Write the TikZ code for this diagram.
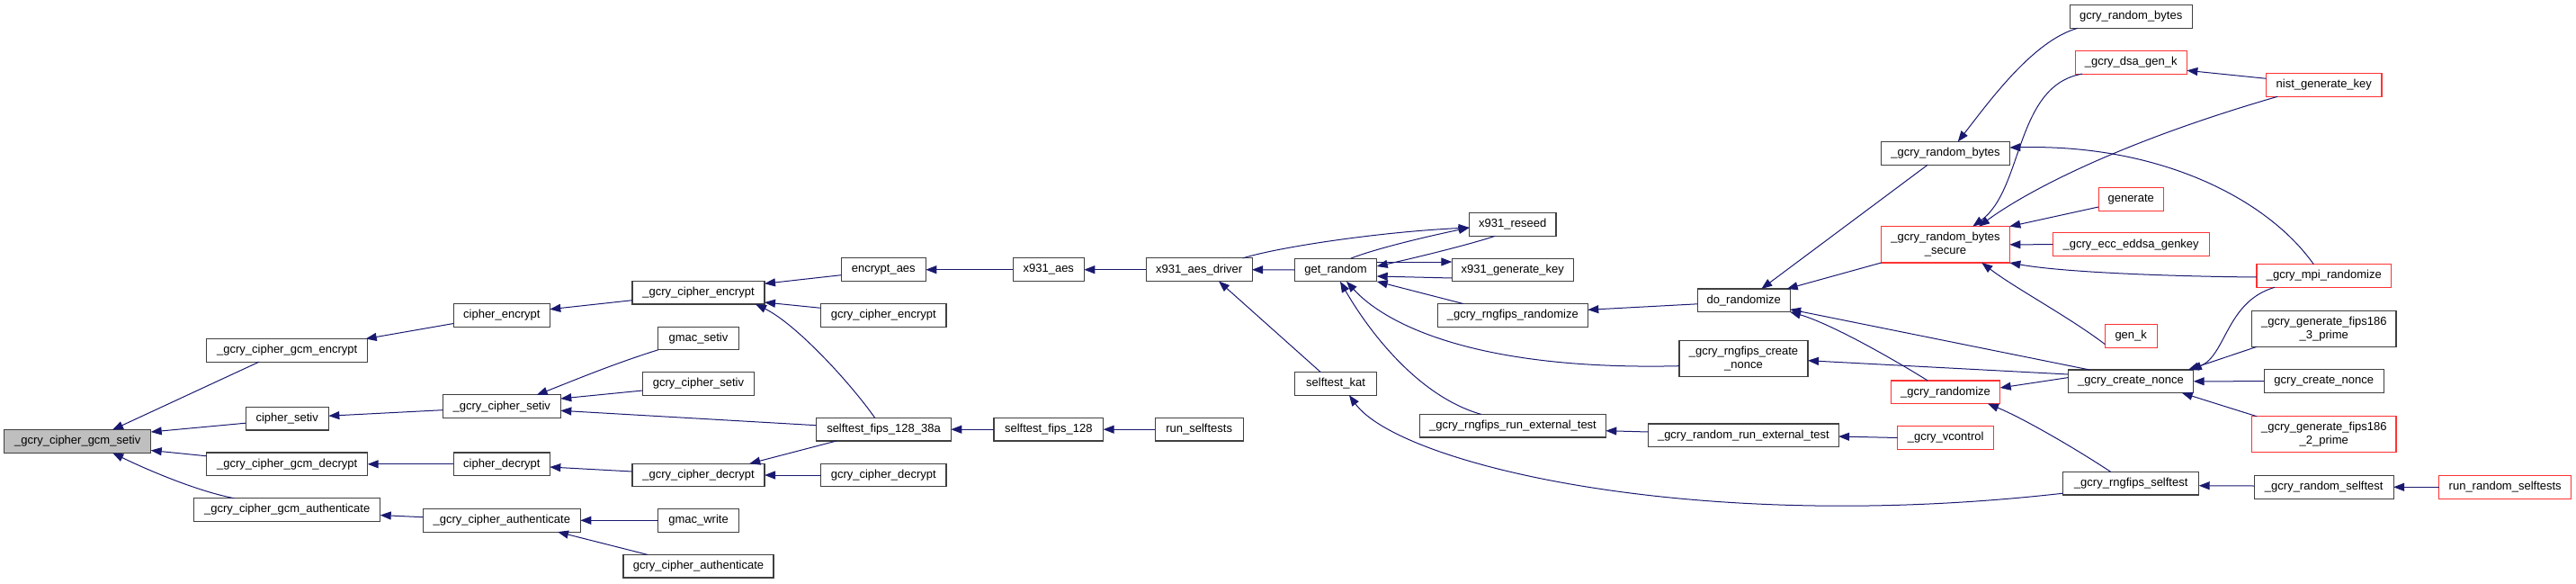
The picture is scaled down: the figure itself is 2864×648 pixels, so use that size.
\documentclass[tikz,border=0pt]{standalone}
\usepackage{fontspec}
\setmainfont{Liberation Sans}
\usetikzlibrary{arrows.meta}
\definecolor{edgecol}{HTML}{191970}
\definecolor{redb}{HTML}{FF3333}
\definecolor{boxb}{HTML}{404040}
\definecolor{grayf}{HTML}{BFBFBF}
\begin{document}
\begin{tikzpicture}[x=1pt,y=-1pt,font=\fontsize{13}{15}\selectfont,
  box/.style={draw=boxb,line width=1.1pt,inner sep=0pt,outer sep=0pt,align=center,fill=white,minimum height=25.6pt},
  rbox/.style={box,draw=redb},
  edge/.style={draw=edgecol,line width=1pt,arrows={Triangle[length=12pt,width=9pt]-}}]
\useasboundingbox (0,0) rectangle (2864,648);
% left part
\node[box,fill=grayf,minimum width=163pt] (gs) at (86.2,490.5) {\_gcry\_cipher\_gcm\_setiv};
\node[box,minimum width=179pt] (ge) at (319.2,389.3) {\_gcry\_cipher\_gcm\_encrypt};
\node[box,minimum width=92.3pt] (cs) at (319.2,465.2) {cipher\_setiv};
\node[box,minimum width=179pt] (gd) at (319.2,515.8) {\_gcry\_cipher\_gcm\_decrypt};
\node[box,minimum width=207pt] (ga) at (319.2,566.5) {\_gcry\_cipher\_gcm\_authenticate};
\node[box,minimum width=107pt] (ce) at (557.8,350.5) {cipher\_encrypt};
\node[box,minimum width=147pt] (gce) at (776.5,325.2) {\_gcry\_cipher\_encrypt};
\node[box,minimum width=94pt] (ea) at (982.3,299.7) {encrypt\_aes};
\node[box,minimum width=139.3pt] (gcre) at (982.3,350.5) {gcry\_cipher\_encrypt};
\node[box,minimum width=89.6pt] (gms) at (776.5,376) {gmac\_setiv};
\node[box,minimum width=124.4pt] (gcrs) at (776.5,426.5) {gcry\_cipher\_setiv};
\node[box,minimum width=131pt] (gcs) at (557.8,451.7) {\_gcry\_cipher\_setiv};
\node[box,minimum width=149.6pt] (sf38) at (982.5,477.2) {selftest\_fips\_128\_38a};
\node[box,minimum width=107pt] (cd) at (557.8,515.8) {cipher\_decrypt};
\node[box,minimum width=147pt] (gcd) at (776.5,528) {\_gcry\_cipher\_decrypt};
\node[box,minimum width=139.3pt] (gcrd) at (982.3,528) {gcry\_cipher\_decrypt};
\node[box,minimum width=175pt] (gca) at (557.8,578.3) {\_gcry\_cipher\_authenticate};
\node[box,minimum width=89.6pt] (gw) at (776.5,578.3) {gmac\_write};
\node[box,minimum width=167pt] (gcra) at (776.5,629.2) {gcry\_cipher\_authenticate};
\node[box,minimum width=79pt] (xa) at (1165.8,299.7) {x931\_aes};
\node[box,minimum width=117.7pt] (xad) at (1333.2,299.7) {x931\_aes\_driver};
\node[box,minimum width=121.7pt] (sf128) at (1165.8,477.2) {selftest\_fips\_128};
\node[box,minimum width=97.7pt] (rs) at (1333.2,477.2) {run\_selftests};
% middle
\node[box,minimum width=91.4pt] (gr) at (1485,300) {get\_random};
\node[box,minimum width=96.3pt] (xr) at (1681.8,249.5) {x931\_reseed};
\node[box,minimum width=135pt] (xgk) at (1681.8,300) {x931\_generate\_key};
\node[box,minimum width=167pt] (rr) at (1681.8,350.3) {\_gcry\_rngfips\_randomize};
\node[box,minimum width=91.4pt] (sk) at (1485,426.4) {selftest\_kat};
\node[box,minimum width=206.6pt] (ret) at (1682,473.2) {\_gcry\_rngfips\_run\_external\_test};
\node[box,minimum width=102.7pt] (dr) at (1938.7,333.8) {do\_randomize};
\node[box,minimum width=143pt,minimum height=40pt] (rcn) at (1938.5,398.7) {\_gcry\_rngfips\_create\\\_nonce};
\node[box,minimum width=211.3pt] (rret) at (1938.4,483.8) {\_gcry\_random\_run\_external\_test};
% right
\node[box,minimum width=136.3pt] (gcrb) at (2369.2,18.5) {gcry\_random\_bytes};
\node[rbox,minimum width=124.3pt] (dsa) at (2369.2,69.3) {\_gcry\_dsa\_gen\_k};
\node[box,minimum width=142.6pt] (grb) at (2163,170.3) {\_gcry\_random\_bytes};
\node[rbox,minimum width=142.6pt,minimum height=40.3pt] (grbs) at (2163,271.8) {\_gcry\_random\_bytes\\\_secure};
\node[rbox,minimum width=72.3pt] (gen) at (2369.2,221.3) {generate};
\node[rbox,minimum width=173.7pt] (ecc) at (2369.2,271.7) {\_gcry\_ecc\_eddsa\_genkey};
\node[rbox,minimum width=128.3pt] (nist) at (2583.8,94.5) {nist\_generate\_key};
\node[rbox,minimum width=149.7pt] (mpi) at (2583.8,306.5) {\_gcry\_mpi\_randomize};
\node[rbox,minimum width=57.7pt] (gk) at (2369.2,373.3) {gen\_k};
\node[box,minimum width=139.4pt] (cn) at (2369,423.8) {\_gcry\_create\_nonce};
\node[rbox,minimum width=121.4pt] (grz) at (2163,435.8) {\_gcry\_randomize};
\node[rbox,minimum width=107pt] (vc) at (2163.2,486.5) {\_gcry\_vcontrol};
\node[box,minimum width=151pt] (rst) at (2369.2,537.2) {\_gcry\_rngfips\_selftest};
\node[box,minimum width=160.3pt,minimum height=40.3pt] (f3) at (2583.8,365.2) {\_gcry\_generate\_fips186\\\_3\_prime};
\node[box,minimum width=132.7pt] (gcn) at (2583.7,423.7) {gcry\_create\_nonce};
\node[rbox,minimum width=160.3pt,minimum height=40pt] (f2) at (2583.8,482.7) {\_gcry\_generate\_fips186\\\_2\_prime};
\node[box,minimum width=154.7pt] (rsel) at (2583.7,541.3) {\_gcry\_random\_selftest};
\node[rbox,minimum width=147pt] (rrs) at (2785.2,541.3) {run\_random\_selftests};
% edges (arrow at callee)
\draw[edge] ([xshift=38.8pt]gs.north) -- ([xshift=-31pt]ge.south);
\draw[edge] ([yshift=10.5pt]gs.east) -- ([yshift=-5pt]cs.west);
\draw[edge] ([yshift=-10pt]gs.east) -- ([yshift=9pt]gd.west);
\draw[edge] ([xshift=39pt]gs.south) .. controls (155,518) and (215,545) .. ([xshift=-59pt]ga.north);
\draw[edge] ([xshift=-2pt]ge.north east) -- ([yshift=-9pt]ce.west);
\draw[edge] ([yshift=3pt]cs.east) -- ([yshift=-4pt]gcs.west);
\draw[edge] (gd.east) -- (cd.west);
\draw[edge] ([yshift=-6pt]ga.east) -- ([yshift=3.6pt]gca.west);
\draw[edge] ([yshift=6.8pt]ce.east) -- ([yshift=-8.5pt]gce.west);
\draw[edge] ([yshift=10pt]gce.east) -- ([yshift=-6pt]ea.west);
\draw[edge] ([yshift=-10.8pt]gce.east) -- ([yshift=8.2pt]gcre.west);
\draw[edge] ([xshift=63.5pt]gce.south) .. controls (885,360) and (945,425) .. ([xshift=-9.8pt]sf38.north);
\draw[edge] ([xshift=38.9pt]gcs.north) .. controls (635,424) and (680,405) .. (gms.south west);
\draw[edge] ([yshift=8.7pt]gcs.east) -- ([yshift=-7.5pt]gcrs.west);
\draw[edge] ([yshift=-4.6pt]gcs.east) -- ([yshift=4.5pt]sf38.west);
\draw[edge] ([yshift=-3.2pt]cd.east) -- ([yshift=4pt]gcd.west);
\draw[edge] ([xshift=56.8pt]gcd.north) -- ([xshift=-52.5pt]sf38.south);
\draw[edge] (gcd.east) -- (gcrd.west);
\draw[edge] (gca.east) -- (gw.west);
\draw[edge] ([xshift=62.2pt]gca.south) -- ([xshift=-56.5pt]gcra.north);
\draw[edge] (ea.east) -- (xa.west);
\draw[edge] (xa.east) -- (xad.west);
\draw[edge] (sf38.east) -- (sf128.west);
\draw[edge] (sf128.east) -- (rs.west);
\draw[edge] (xad.east) -- (gr.west);
\draw[edge] ([xshift=21.8pt]xad.south) -- ([xshift=-16.7pt]sk.north);
\draw[edge] ([yshift=-3.5pt]xr.west) .. controls (1530,258) and (1420,275) .. ([xshift=48.5pt]xad.north);
\draw[edge] ([yshift=-3.5pt]xr.west) .. controls (1590,262) and (1530,276) .. ([xshift=16.7pt]gr.north);
\draw[edge] ([yshift=4pt]gr.east) .. controls (1580,285) and (1640,270) .. ([xshift=-19.8pt]xr.south);
\draw[edge] ([yshift=9pt]xgk.west) -- ([yshift=9pt]gr.east);
\draw[edge] ([yshift=-7pt]gr.east) -- ([yshift=-9pt]xgk.west);
\draw[edge] (gr.south east) -- ([xshift=-55pt]rr.north);
\draw[edge] ([xshift=12pt]gr.south) .. controls (1540,360) and (1640,412) .. ([yshift=-8pt]rcn.west);
\draw[edge] ([xshift=5pt]gr.south) .. controls (1520,365) and (1575,440) .. ([xshift=-35.3pt]ret.north);
\draw[edge] ([xshift=15pt]sk.south) .. controls (1555,515) and (1880,595) .. ([yshift=-11pt]rst.west);
\draw[edge] ([yshift=6pt]rr.east) -- ([yshift=-4pt]dr.west);
\draw[edge] ([yshift=-5.5pt]ret.east) -- ([yshift=3.8pt]rret.west);
\draw[edge] ([yshift=-1.2pt]rret.east) -- (vc.west);
\draw[edge] ([yshift=-2pt]rcn.east) -- ([yshift=7.8pt]cn.west);
\draw[edge] ([yshift=-10pt]dr.east) -- ([xshift=-45.7pt]cn.north);
\draw[edge] (dr.south east) .. controls (2030,358) and (2090,390) .. ([xshift=-19.7pt]grz.north);
\draw[edge] ([xshift=19.6pt]dr.north) -- ([xshift=-19.7pt]grb.south);
\draw[edge] ([xshift=48pt]dr.north) -- (grbs.south west);
\draw[edge] ([yshift=4.8pt]grz.east) -- ([yshift=4.2pt]cn.west);
\draw[edge] ([xshift=47pt]grz.south) .. controls (2250,465) and (2310,500) .. ([xshift=-22.5pt]rst.north);
\draw[edge] ([xshift=-3pt]cn.north east) .. controls (2475,395) and (2475,335) .. ([xshift=-54.8pt]mpi.south);
\draw[edge] ([xshift=-6pt]cn.north east) -- ([xshift=-74.8pt]f3.south);
\draw[edge] (cn.east) -- (gcn.west);
\draw[edge] ([xshift=-13pt]cn.south east) -- ([xshift=-74.8pt]f2.north);
\draw[edge] ([yshift=-2.5pt]rst.east) -- ([yshift=1.3pt]rsel.west);
\draw[edge] (rsel.east) -- (rrs.west);
\draw[edge] ([xshift=13.7pt]grb.north) .. controls (2210,115) and (2260,45) .. ([xshift=9pt]gcrb.south west);
\draw[edge] ([yshift=6.3pt]grb.east) .. controls (2400,160) and (2520,220) .. ([xshift=-11.5pt]mpi.north);
\draw[edge] ([xshift=30.3pt]grbs.north) .. controls (2250,210) and (2240,95) .. ([xshift=8pt]dsa.south west);
\draw[edge] ([xshift=37pt]grbs.north) .. controls (2250,215) and (2350,160) .. ([xshift=12.6pt]nist.south west);
\draw[edge] (grbs.north east) -- ([yshift=-8.7pt]gen.west);
\draw[edge] (grbs.east) -- (ecc.west);
\draw[edge] (grbs.south east) .. controls (2290,302) and (2400,307) .. ([yshift=-1.5pt]mpi.west);
\draw[edge] ([xshift=40.3pt]grbs.south) .. controls (2240,320) and (2300,352) .. ([yshift=-9.3pt]gk.west);
\draw[edge] ([yshift=-9pt]dsa.east) -- ([yshift=7.2pt]nist.west);
\end{tikzpicture}
\end{document}
